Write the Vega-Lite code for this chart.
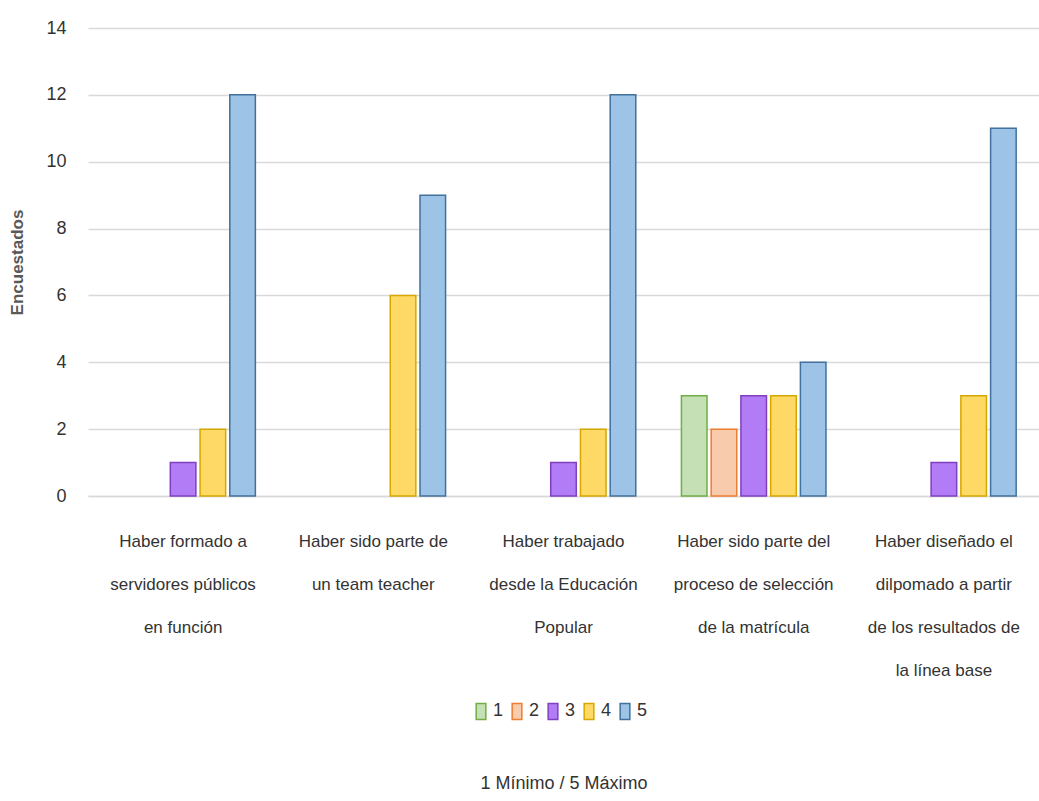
{
  "$schema": "https://vega.github.io/schema/vega-lite/v6.json",
  "autosize": "none",
  "width": 951,
  "height": 468,
  "padding": {"left": 88, "top": 28, "right": 0, "bottom": 305},
  "background": "white",
  "config": {
    "font": "Liberation Sans Narrow, Liberation Sans, sans-serif",
    "view": {"stroke": null}
  },
  "data": {
    "values": [
      {"cat": "Haber formado a|servidores públicos|en función", "serie": "3", "valor": 1},
      {"cat": "Haber formado a|servidores públicos|en función", "serie": "4", "valor": 2},
      {"cat": "Haber formado a|servidores públicos|en función", "serie": "5", "valor": 12},
      {"cat": "Haber sido parte de|un team teacher", "serie": "4", "valor": 6},
      {"cat": "Haber sido parte de|un team teacher", "serie": "5", "valor": 9},
      {"cat": "Haber trabajado|desde la Educación|Popular", "serie": "3", "valor": 1},
      {"cat": "Haber trabajado|desde la Educación|Popular", "serie": "4", "valor": 2},
      {"cat": "Haber trabajado|desde la Educación|Popular", "serie": "5", "valor": 12},
      {"cat": "Haber sido parte del|proceso de selección|de la matrícula", "serie": "1", "valor": 3},
      {"cat": "Haber sido parte del|proceso de selección|de la matrícula", "serie": "2", "valor": 2},
      {"cat": "Haber sido parte del|proceso de selección|de la matrícula", "serie": "3", "valor": 3},
      {"cat": "Haber sido parte del|proceso de selección|de la matrícula", "serie": "4", "valor": 3},
      {"cat": "Haber sido parte del|proceso de selección|de la matrícula", "serie": "5", "valor": 4},
      {"cat": "Haber diseñado el|dilpomado a partir|de los resultados de|la línea base", "serie": "3", "valor": 1},
      {"cat": "Haber diseñado el|dilpomado a partir|de los resultados de|la línea base", "serie": "4", "valor": 3},
      {"cat": "Haber diseñado el|dilpomado a partir|de los resultados de|la línea base", "serie": "5", "valor": 11}
    ]
  },
  "mark": {"type": "bar", "strokeWidth": 1.5},
  "encoding": {
    "x": {
      "field": "cat",
      "type": "nominal",
      "sort": null,
      "scale": {"paddingInner": 0.24, "paddingOuter": 0.12},
      "axis": {
        "title": "1 Mínimo / 5 Máximo",
        "titleFontSize": 18,
        "titleFontWeight": "normal",
        "titleColor": "#333333",
        "titleY": 278,
        "labelExpr": "split(datum.label, '|')",
        "labelAngle": 0,
        "labelFontSize": 17,
        "labelColor": "#333333",
        "labelLineHeight": 43,
        "labelPadding": 37,
        "labelLimit": 0,
        "ticks": false,
        "domainColor": "#d9d9d9",
        "domainWidth": 1.5
      }
    },
    "xOffset": {
      "field": "serie",
      "type": "nominal",
      "scale": {"domain": ["1", "2", "3", "4", "5"], "paddingInner": 0.14}
    },
    "y": {
      "field": "valor",
      "type": "quantitative",
      "scale": {"domain": [0, 14]},
      "axis": {
        "title": "Encuestados",
        "titleFontSize": 17,
        "titleFontWeight": "bold",
        "titleColor": "#595959",
        "titleX": -62,
        "values": [0, 2, 4, 6, 8, 10, 12, 14],
        "labelFontSize": 18,
        "labelColor": "#333333",
        "labelPadding": 22,
        "ticks": false,
        "domain": false,
        "gridColor": "#d9d9d9",
        "gridWidth": 1.5
      }
    },
    "fill": {
      "field": "serie",
      "type": "nominal",
      "scale": {"domain": ["1", "2", "3", "4", "5"], "range": ["#c5e0b4", "#f8cbad", "#b37cf7", "#ffd966", "#9dc3e6"]},
      "legend": {
        "title": null,
        "orient": "none",
        "direction": "horizontal",
        "legendX": 384,
        "legendY": 674,
        "symbolType": "M-0.6,-1H0.6V1H-0.6Z",
        "symbolSize": 260,
        "symbolStrokeWidth": 1.5,
        "labelFontSize": 18,
        "labelColor": "#333333",
        "columnPadding": 4,
        "labelOffset": 3
      }
    },
    "stroke": {
      "field": "serie",
      "type": "nominal",
      "scale": {"domain": ["1", "2", "3", "4", "5"], "range": ["#70ad47", "#ed7d31", "#7f3fbf", "#d6a800", "#41719c"]},
      "legend": null
    }
  }
}
